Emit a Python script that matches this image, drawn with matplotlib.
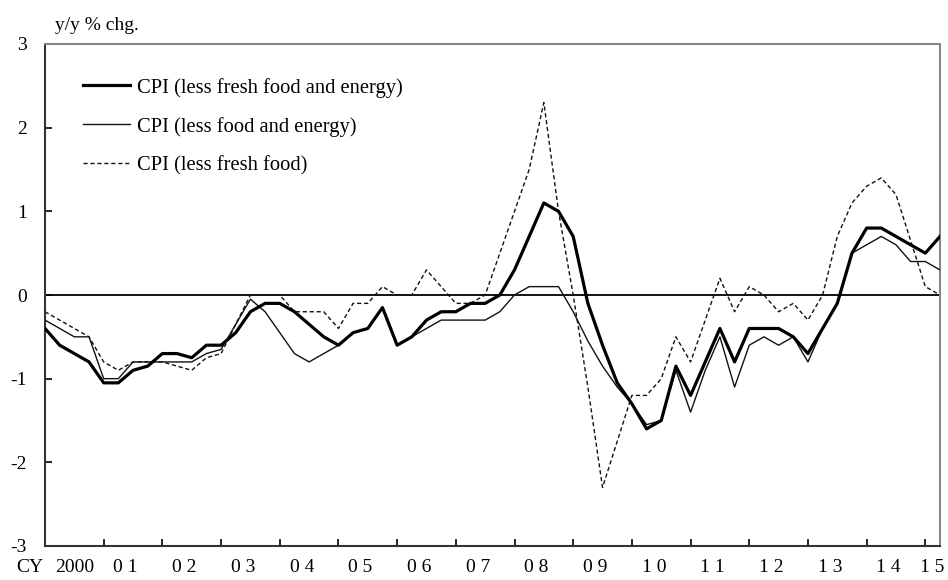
import numpy as np
import matplotlib
matplotlib.use('Agg')
import matplotlib.pyplot as plt

plt.rcParams['font.family'] = ['Liberation Serif', 'DejaVu Serif']

# 四半期データ 2000Q1 - 2015Q2 (y/y % chg.)
core = [-0.4, -0.6, -0.7, -0.8, -1.05, -1.05, -0.9, -0.85, -0.7, -0.7,
        -0.75, -0.6, -0.6, -0.45, -0.2, -0.1, -0.1, -0.2, -0.35, -0.5,
        -0.6, -0.45, -0.4, -0.15, -0.6, -0.5, -0.3, -0.2, -0.2, -0.1,
        -0.1, 0.0, 0.3, 0.7, 1.1, 1.0, 0.7, -0.1, -0.6, -1.05,
        -1.3, -1.6, -1.5, -0.85, -1.2, -0.8, -0.4, -0.8, -0.4, -0.4,
        -0.4, -0.5, -0.7, -0.4, -0.1, 0.5, 0.8, 0.8, 0.7, 0.6,
        0.5, 0.7]
less_food_energy = [-0.3, -0.4, -0.5, -0.5, -1.0, -1.0, -0.8, -0.8, -0.8, -0.8,
                    -0.8, -0.7, -0.65, -0.35, -0.05, -0.2, -0.45, -0.7, -0.8, -0.7,
                    -0.6, -0.45, -0.4, -0.15, -0.6, -0.5, -0.4, -0.3, -0.3, -0.3,
                    -0.3, -0.2, 0.0, 0.1, 0.1, 0.1, -0.2, -0.55, -0.85, -1.1,
                    -1.3, -1.55, -1.5, -0.9, -1.4, -0.9, -0.5, -1.1, -0.6, -0.5,
                    -0.6, -0.5, -0.8, -0.4, -0.1, 0.5, 0.6, 0.7, 0.6, 0.4,
                    0.4, 0.3]
less_fresh_food = [-0.2, -0.3, -0.4, -0.5, -0.8, -0.9, -0.8, -0.8, -0.8, -0.85,
                   -0.9, -0.75, -0.7, -0.35, 0.0, 0.0, 0.0, -0.2, -0.2, -0.2,
                   -0.4, -0.1, -0.1, 0.1, 0.0, 0.0, 0.3, 0.1, -0.1, -0.1,
                   0.0, 0.5, 1.0, 1.5, 2.3, 1.0, 0.0, -1.1, -2.3, -1.75,
                   -1.2, -1.2, -1.0, -0.5, -0.8, -0.3, 0.2, -0.2, 0.1, 0.0,
                   -0.2, -0.1, -0.3, 0.0, 0.7, 1.1, 1.3, 1.4, 1.2, 0.65,
                   0.1, 0.0]

year_labels = ['2000', '0 1', '0 2', '0 3', '0 4', '0 5', '0 6', '0 7',
               '0 8', '0 9', '1 0', '1 1', '1 2', '1 3', '1 4', '1 5']
yticks = [-3, -2, -1, 0, 1, 2, 3]

x = np.arange(len(core))

fig = plt.figure(figsize=(9.48, 5.8), dpi=100)
ax = fig.add_axes([45 / 948, 1 - 546 / 580, 895 / 948, 502 / 580])

ax.axhline(0, color='black', lw=1.3, zorder=1)
ax.plot(x, core, color='black', lw=2.3, label='CPI (less fresh food and energy)', zorder=4)
ax.plot(x, less_food_energy, color='#111111', lw=1.0, label='CPI (less food and energy)', zorder=3)
ax.plot(x, less_fresh_food, color='#111111', lw=1.0, ls=(0, (3, 2)), label='CPI (less fresh food)', zorder=2)

ax.set_xlim(0, len(core) - 1)
ax.set_ylim(-3, 3)
ax.set_yticks(yticks)
ax.set_yticklabels([str(v) for v in yticks])

# 年の区切りに目盛、ラベルは区間の中ほど
ax.set_xticks(np.arange(4, len(core), 4))
ax.set_xticklabels([])
lab_pos = [2.0] + [4 * k + 1.5 for k in range(1, 15)] + [60.5]
ax.set_xticks(lab_pos, minor=True)
ax.set_xticklabels(year_labels, minor=True)

ax.tick_params(axis='both', which='major', direction='in', length=5, width=1.2, labelsize=14)
ax.tick_params(axis='y', pad=13)
ax.tick_params(axis='x', which='minor', length=0, labelsize=14, pad=9)

for side in ['left', 'bottom']:
    ax.spines[side].set_color('#333333')
    ax.spines[side].set_linewidth(1.5)
for side in ['top', 'right']:
    ax.spines[side].set_color('#888888')
    ax.spines[side].set_linewidth(1.5)

fig.text(30 / 948, 1 - 568 / 580, 'CY', fontsize=14, ha='center', va='center')
fig.text(55 / 948, 1 - 25 / 580, 'y/y % chg.', fontsize=14, ha='left', va='center')

ax.legend(loc='upper left', bbox_to_anchor=(0.0425, 0.933), frameon=False,
          fontsize=14.8, handlelength=2.3, handletextpad=0.33,
          labelspacing=0.93, borderpad=0, borderaxespad=0)

plt.savefig('out.png', dpi=100)
plt.close()
